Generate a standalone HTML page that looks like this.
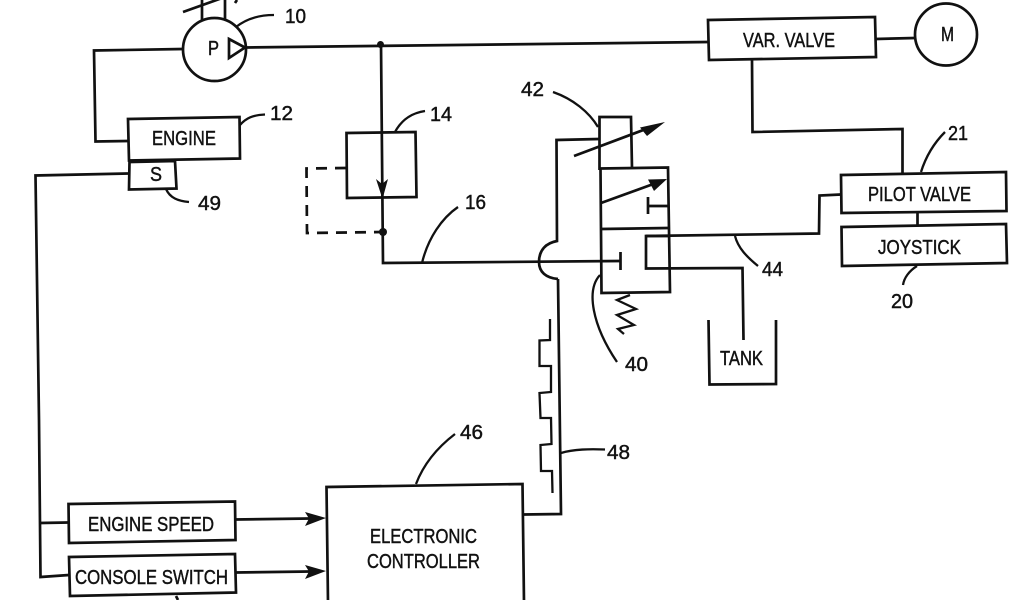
<!DOCTYPE html>
<html><head><meta charset="utf-8"><style>
html,body{margin:0;padding:0;background:#fff;width:1024px;height:600px;overflow:hidden}
svg{display:block}
text{font-family:"Liberation Sans",sans-serif;fill:#111;font-size:20px;stroke:#111;stroke-width:.45px}
.l{fill:none;stroke:#111;stroke-width:2.7;stroke-linejoin:miter}
.t{fill:none;stroke:#111;stroke-width:2.3}
</style></head><body>
<svg width="1024" height="600" viewBox="0 0 1024 600" xmlns="http://www.w3.org/2000/svg">
<rect width="1024" height="600" fill="#fff"/>
<!-- pump -->
<circle class="l" cx="214.5" cy="49.5" r="31.5"/>
<path class="l" d="M202 0V21M225 0V19M183 12L225 -3M237 0L235 3"/>
<path class="l" d="M229 39L245 47.500L229 58Z"/>
<path class="l" d="M183 49L94 50.500L95.500 141.500L128 141"/>
<path class="l" d="M246 47.500L708 42"/>
<circle cx="380.500" cy="44.500" r="3.500" fill="#111"/>
<!-- engine -->
<path class="l" d="M128 119L239.500 117L240 158.500L129 160.500Z"/>
<path class="l" d="M129.500 162L175 161L176.500 188.500L129 189.500Z"/>
<path class="l" d="M129 173.500L35.500 175.500L39 420L40.500 577L69 575"/>
<path class="l" d="M40 523L68 522.500"/>
<!-- inputs -->
<path class="l" d="M68.500 504L235 501.500L235.500 540L69 543Z"/>
<path class="l" d="M69 557L235 554L236 592.500L70 596Z"/>
<path class="l" d="M235 519.500L310 518.500M236 572.500L310 571.500M176 596L178 600"/>
<path d="M305 512L326 518L305 526L309 518.500Z" fill="#111"/>
<path d="M305 565L326 571L305 579L309 571.500Z" fill="#111"/>
<!-- controller -->
<path class="l" d="M328 602L326.500 487L522.500 484L524 602"/>
<path class="l" d="M524 514.500L561 514L558 279"/>
<path class="l" d="M558 279C546 278 539 272 539 262C539 250 546 243 557 241L556.500 140L599 139"/>
<path class="t" d="M550 319L550 340L539.500 340.500L539.500 366L551 366L551 392L539.500 393L540.500 418L551 418L551.500 444L540.500 445L541 471L552 471L552.500 493"/>
<!-- 14 -->
<path class="l" d="M346.500 133L415.500 132L416.500 197L347 198Z"/>
<path class="l" d="M381 44L383 263L620 261"/>
<path d="M376 179L382 184L388 179L382.500 199Z" fill="#111"/>
<path class="l" d="M346 168L306.500 168.500L307 233L382 232" style="stroke-dasharray:11 8"/>
<circle cx="383" cy="232" r="4" fill="#111"/>
<!-- valve -->
<path class="l" d="M599.500 170V117H631L632 168"/>
<path class="l" d="M600.500 168.500L668 167.500L670 292L601.500 293Z"/>
<path class="l" d="M601 229L668 228"/>
<path class="l" d="M574 156L650 127.500"/>
<path d="M665 122L640 127.500L647 136Z" fill="#111"/>
<path class="l" d="M601 203L652 184.500"/>
<path d="M667 179L648 179.500L654 191Z" fill="#111"/>
<path class="l" d="M648 197V214M648 206L668 206M620.500 252V270"/>
<path class="t" d="M630 295L617 300L636 309L617 315L634 325L618 329L624 334"/>
<path class="l" d="M646 236L819 233.500L819.500 195.500L841 194.500"/>
<path class="l" d="M670 236H646V268.500L742.500 268L743.500 340"/>
<path class="l" d="M708.500 320L709.500 384.500L776 384L776 320"/>
<!-- right side -->
<path class="l" d="M708 20L875 17L876 57L709 60Z"/>
<path class="l" d="M875.500 39L915 38"/>
<circle class="l" cx="946" cy="34.500" r="31"/>
<path class="l" d="M752 60L752.500 132L902.500 129L902.500 173"/>
<path class="l" d="M841 175L1006 172L1006.500 211L841.500 213Z"/>
<path class="l" d="M841.500 227L1006 224L1007 263L842 266Z"/>
<path class="l" d="M917.500 213V225"/>
<!-- leaders -->
<path class="t" d="M236 27C246 19 258 15 274 15M240 125C246 118 253 115 265 114.500M166 189C170 198 178 201 189 202"/>
<path class="t" d="M395 132C402 119 412 113 425 111M422 263C428 238 442 218 458 207M416 484C424 463 438 447 455 434"/>
<path class="t" d="M553 92C573 99 589 112 598 127M600 275C586 290 592 325 617 362M735 236C738 248 747 257 758 266"/>
<path class="t" d="M561 453C574 449 590 449 605 449.500M921 172C926 156 934 143 945 132M917 266C909 271 904 278 903 285"/>
<!-- labels -->
<text x="208" y="55" textLength="11" lengthAdjust="spacingAndGlyphs">P</text>
<text x="285" y="23" textLength="21" lengthAdjust="spacingAndGlyphs">10</text>
<text x="270" y="120" textLength="23" lengthAdjust="spacingAndGlyphs">12</text>
<text x="198" y="210" textLength="23" lengthAdjust="spacingAndGlyphs">49</text>
<text x="152" y="145" textLength="64" lengthAdjust="spacingAndGlyphs">ENGINE</text>
<text x="150" y="181" textLength="12" lengthAdjust="spacingAndGlyphs">S</text>
<text x="430" y="121" textLength="22" lengthAdjust="spacingAndGlyphs">14</text>
<text x="465" y="209" textLength="21" lengthAdjust="spacingAndGlyphs">16</text>
<text x="521" y="96" textLength="23" lengthAdjust="spacingAndGlyphs">42</text>
<text x="625" y="371" textLength="23" lengthAdjust="spacingAndGlyphs">40</text>
<text x="720" y="365" textLength="43" lengthAdjust="spacingAndGlyphs">TANK</text>
<text x="762" y="276" textLength="21" lengthAdjust="spacingAndGlyphs">44</text>
<text x="743" y="47" textLength="92" lengthAdjust="spacingAndGlyphs">VAR. VALVE</text>
<text x="941" y="41" textLength="13" lengthAdjust="spacingAndGlyphs">M</text>
<text x="868" y="201" textLength="103" lengthAdjust="spacingAndGlyphs">PILOT VALVE</text>
<text x="878" y="254" textLength="83" lengthAdjust="spacingAndGlyphs">JOYSTICK</text>
<text x="948" y="140" textLength="20" lengthAdjust="spacingAndGlyphs">21</text>
<text x="891" y="308" textLength="22" lengthAdjust="spacingAndGlyphs">20</text>
<text x="88" y="531" textLength="126" lengthAdjust="spacingAndGlyphs">ENGINE SPEED</text>
<text x="75" y="584" textLength="153" lengthAdjust="spacingAndGlyphs">CONSOLE SWITCH</text>
<text x="370" y="543" textLength="107" lengthAdjust="spacingAndGlyphs">ELECTRONIC</text>
<text x="367" y="568" textLength="113" lengthAdjust="spacingAndGlyphs">CONTROLLER</text>
<text x="460" y="439" textLength="23" lengthAdjust="spacingAndGlyphs">46</text>
<text x="607" y="459" textLength="23" lengthAdjust="spacingAndGlyphs">48</text>
</svg>
</body></html>
